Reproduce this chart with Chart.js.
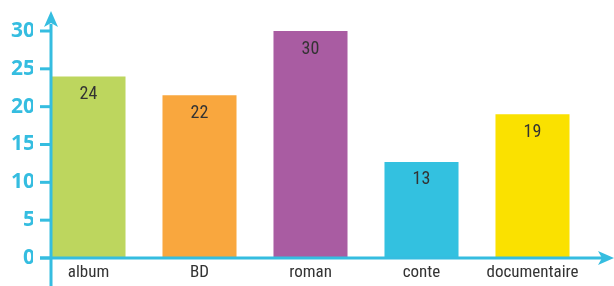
<!DOCTYPE html>
<html lang="fr">
<head>
    <meta charset="UTF-8">
    <title>Livres par genre</title>
    <script src="https://cdn.jsdelivr.net/npm/chart.js"></script>
    <style>
        body { margin: 0; background: #fff; }
        canvas { display: block; }
    </style>
</head>
<body>
    <canvas id="genreChart" width="614" height="286"></canvas>

    <script>
        // Data
        const categories = ['album', 'BD', 'roman', 'conte', 'documentaire'];
        const values = [24, 21.5, 30, 12.7, 19];
        const valueLabels = ['24', '22', '30', '13', '19'];
        const barColors = ['#bdd65e', '#f9a73e', '#a95ca2', '#33c1e0', '#fae100'];
        const yTicks = [0, 5, 10, 15, 20, 25, 30];

        const axisBlue = '#35bde0';
        const axisX = 51; // where the vertical axis is drawn
        const narrowFont = '"Liberation Sans Narrow", "Roboto Condensed", sans-serif';

        // Axes with arrows + value labels inside the bars
        const axesPlugin = {
            id: 'axesPlugin',
            afterDatasetsDraw(chart) {
                const ctx = chart.ctx;
                const meta = chart.getDatasetMeta(0);
                ctx.save();
                ctx.font = '18px ' + narrowFont;
                ctx.fillStyle = '#333';
                ctx.textAlign = 'center';
                ctx.textBaseline = 'middle';
                meta.data.forEach((bar, i) => {
                    ctx.fillText(valueLabels[i], bar.x, bar.y + 18);
                });
                ctx.restore();
            },
            afterDraw(chart) {
                const ctx = chart.ctx;
                const yScale = chart.scales.y;
                const y0 = yScale.getPixelForValue(0);
                ctx.save();
                ctx.strokeStyle = axisBlue;
                ctx.fillStyle = axisBlue;
                ctx.lineWidth = 3;

                // vertical axis
                ctx.beginPath();
                ctx.moveTo(axisX, chart.height);
                ctx.lineTo(axisX, 24);
                ctx.stroke();
                ctx.beginPath();
                ctx.moveTo(axisX, 11);
                ctx.lineTo(axisX - 7, 27);
                ctx.lineTo(axisX, 23);
                ctx.lineTo(axisX + 7, 27);
                ctx.closePath();
                ctx.fill();

                // horizontal axis
                ctx.beginPath();
                ctx.moveTo(40, y0);
                ctx.lineTo(602, y0);
                ctx.stroke();
                ctx.beginPath();
                ctx.moveTo(614, y0);
                ctx.lineTo(598, y0 - 7);
                ctx.lineTo(602, y0);
                ctx.lineTo(598, y0 + 7);
                ctx.closePath();
                ctx.fill();

                // tick marks
                yTicks.forEach(v => {
                    const y = yScale.getPixelForValue(v);
                    ctx.beginPath();
                    ctx.moveTo(40, y);
                    ctx.lineTo(axisX, y);
                    ctx.stroke();
                });
                ctx.restore();
            }
        };

        new Chart(document.getElementById('genreChart').getContext('2d'), {
            type: 'bar',
            data: {
                labels: categories,
                datasets: [{
                    data: values,
                    backgroundColor: barColors,
                    borderWidth: 0,
                    barPercentage: 0.667,
                    categoryPercentage: 1
                }]
            },
            options: {
                responsive: false,
                animation: false,
                layout: { padding: { top: 31, right: 26, left: 0, bottom: 0 } },
                plugins: {
                    legend: { display: false },
                    tooltip: { enabled: false }
                },
                scales: {
                    x: {
                        grid: { display: false, drawTicks: false },
                        border: { display: false },
                        ticks: {
                            color: '#333',
                            padding: 5,
                            font: { family: narrowFont, size: 17 }
                        },
                        afterFit: s => { s.height = 28; }
                    },
                    y: {
                        min: 0,
                        max: 30,
                        grid: { display: false, drawTicks: false },
                        border: { display: false },
                        ticks: {
                            stepSize: 5,
                            color: axisBlue,
                            padding: -2,
                            font: { family: '"Open Sans", sans-serif', size: 21, weight: 'bold' }
                        },
                        afterFit: s => { s.width = 33; }
                    }
                }
            },
            plugins: [axesPlugin]
        });
    </script>
</body>
</html>
